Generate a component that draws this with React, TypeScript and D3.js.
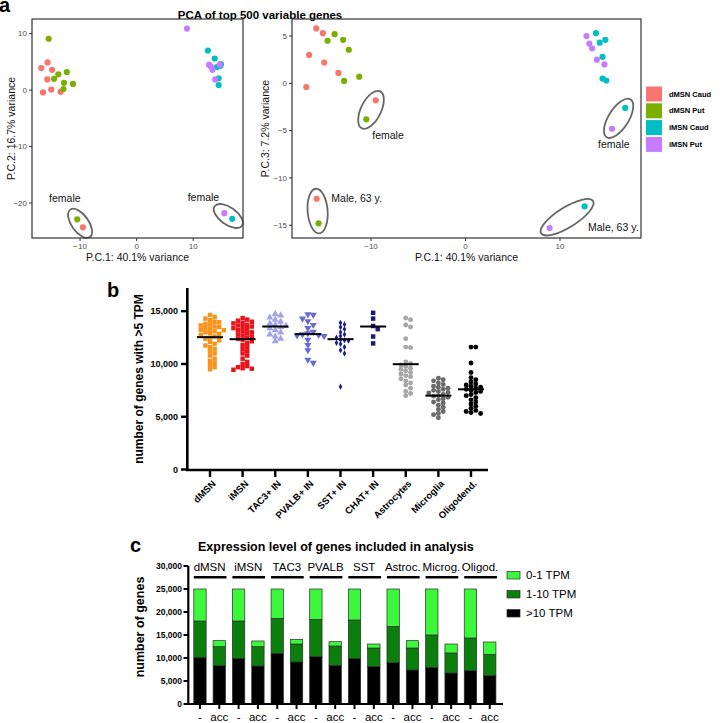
import React from "react";
import * as d3 from "d3";

const FONT = "'Liberation Sans', Arial, Helvetica, sans-serif";

// ---------------- Panel a data ----------------
const pcaGroups = ["dMSN Caud", "dMSN Put", "iMSN Caud", "iMSN Put"];
const pcaColors = ["#F8766D", "#7CAE00", "#00BFC4", "#C77CFF"];
const pcaGroup = [0, 0, 0, 0, 0, 0, 0, 0, 1, 1, 1, 1, 1, 1, 1, 1, 2, 2, 2, 2, 2, 2, 2, 2, 3, 3, 3, 3, 3, 3, 3];
const pc1 = [-16.85, -16.55, -15.8, -15.75, -15.1, -14.95, -13.45, -9.5,
  -15.55, -14.6, -13.85, -12.95, -12.85, -12.35, -11.25, -10.5,
  12.6, 13.8, 14.2, 14.8, 14.5, 14.5, 14.9, 16.9,
  8.9, 12.8, 13.1, 13.4, 13.9, 14.7, 15.5];
const pc2 = [3.9, -0.4, 1.9, 4.9, 0.1, 3.6, -0.3, -24.3,
  9.1, 2.0, 2.8, 0.2, 1.3, 3.2, 1.1, -22.9,
  7.0, 5.6, 4.1, 4.3, 2.1, 0.9, 4.6, -22.8,
  10.9, 4.5, 4.2, 3.6, 1.9, 4.5, -21.8];
const pc3 = [-0.4, 3.0, 5.8, -12.2, 5.3, 2.2, 1.1, -1.8,
  -14.8, 4.5, 5.2, 4.6, 0.25, 3.55, 0.7, -3.8,
  -13.0, 5.3, 4.3, 4.6, 2.8, 0.5, 0.3, -2.6,
  -15.3, 5.0, 4.2, 3.7, 2.5, 2.0, -4.8];
const pcaNote = ["", "", "", "M", "", "", "", "F",
  "M", "", "", "", "", "", "", "F",
  "M", "", "", "", "", "", "", "F",
  "M", "", "", "", "", "", "F"];

// ---------------- Panel b data ----------------
const bCats = ["dMSN", "iMSN", "TAC3+ IN", "PVALB+ IN", "SST+ IN", "CHAT+ IN", "Astrocytes", "Microglia", "Oligodend."];
const bdMSN = [14650, 14450, 14300, 14150, 14000, 13950, 13800, 13750, 13650, 13550, 13500, 13400, 13350, 13250, 13200, 13100, 13000, 12950, 12850, 12750, 12600, 12500, 12400, 12250, 12100, 11900, 11750, 11600, 11400, 11200, 11000, 10800, 10500, 10300, 10100, 9900, 9700, 9500];
const biMSN = [14350, 14200, 14100, 14000, 13900, 13850, 13700, 13650, 13550, 13500, 13400, 13300, 13200, 13100, 13000, 12900, 12800, 12700, 12600, 12500, 12400, 12300, 12150, 12000, 11800, 11600, 11400, 11200, 11000, 10800, 10500, 10200, 10000, 9800, 9700, 9550, 9450, 9600];
const bTAC3 = [14750, 14600, 14400, 14200, 14000, 13850, 13700, 13600, 13500, 13400, 13200, 13000, 12800, 12600, 12400, 12150];
const bPVALB = [14700, 14650, 14300, 14050, 13700, 13400, 13050, 12900, 12800, 12750, 12700, 12650, 12300, 11800, 11300, 10400, 10100];
const bSST = [13900, 13750, 13500, 13300, 13000, 12800, 12650, 12500, 12300, 12250, 12200, 12000, 11900, 11600, 11300, 11000, 7850];
const bCHAT = [14850, 14300, 13600, 13300, 12600, 11950];
const bAstro = [14350, 14200, 13700, 13500, 12400, 11600, 11550, 10200, 10050, 9900, 9750, 9600, 9500, 9350, 9200, 9050, 8900, 8800, 8600, 8400, 8200, 8000, 7700, 7400, 7200, 7000];
const bMicro = [8650, 8500, 8400, 8200, 8050, 7900, 7800, 7700, 7600, 7500, 7400, 7300, 7250, 7100, 7000, 6950, 6850, 6700, 6600, 6400, 6300, 6100, 5900, 5700, 5500, 5300, 5200, 4900];
const bOligo = [11600, 11600, 10100, 9200, 8700, 8500, 8300, 8100, 8000, 7900, 7800, 7700, 7600, 7500, 7400, 7300, 7100, 7000, 6800, 6600, 6400, 6200, 6000, 5800, 5600, 5500, 5400, 5300];
const bValues = [bdMSN, biMSN, bTAC3, bPVALB, bSST, bCHAT, bAstro, bMicro, bOligo];
const bCenter = [12540, 12350, 13550, 12830, 12350, 13550, 9980, 7000, 7600];
const bColors = ["#F7941D", "#E8141B", "#A3A3EA", "#6A6AD4", "#1C1C94", "#1A1A7E", "#A6A6A6", "#6B6B6B", "#000000"];
const bShapes = ["square", "square", "triUp", "triDown", "diamond", "square", "circle", "circle", "circle"];
const bTicks = [0, 5000, 10000, 15000];

// ---------------- Panel c data ----------------
const cGroups = ["dMSN", "iMSN", "TAC3", "PVALB", "SST", "Astroc.", "Microg.", "Oligod."];
const cConds = ["-", "acc"];
const cGt10 = [10150, 8330, 9930, 8260, 11010, 9130, 10290, 8400, 9860, 8120, 8990, 7390, 7970, 6740, 7250, 6160];
const c1to10 = [7890, 4130, 8110, 4200, 7610, 3910, 8110, 4200, 8400, 4050, 7890, 4780, 7030, 4350, 7100, 4640];
const c0to1 = [6960, 1310, 6960, 1240, 6380, 1020, 6600, 950, 6740, 870, 8120, 1600, 10000, 1950, 10650, 2680];
const cSeries = [">10 TPM", "1-10 TPM", "0-1 TPM"];
const cColors = ["#000000", "#0B7F0B", "#3CF73C"];
const cTicks = [0, 5000, 10000, 15000, 20000, 25000, 30000];

const fmt = d3.format(",");

// ---------------- helpers ----------------
function ellipseFor(a: [number, number], b: [number, number], pad: number, minor: number) {
  const cx = (a[0] + b[0]) / 2, cy = (a[1] + b[1]) / 2;
  const dx = b[0] - a[0], dy = b[1] - a[1];
  const ang = (Math.atan2(dy, dx) * 180) / Math.PI;
  const major = Math.hypot(dx, dy) / 2 + pad;
  return { cx, cy, ang, major, minor };
}

type Lab = { text: string; x: number; y: number; anchor: string };

function PcaPanel(props: {
  x0: number; x1: number; y0: number; y1: number;
  xDom: number[]; yDom: number[]; ys: number[];
  xTicks: number[]; yTicks: number[]; yTitle: string; yTitleX: number;
  pairs: { note: string; groups: number[] }[]; labels: Lab[]; pad: number; minor: number;
}) {
  const { x0, x1, y0, y1, xDom, yDom, ys, xTicks, yTicks, yTitle, yTitleX, pairs, labels, pad, minor } = props;
  const sx = d3.scaleLinear().domain(xDom).range([x0, x1]);
  const sy = d3.scaleLinear().domain(yDom).range([y1, y0]);
  const idx = d3.range(pc1.length);
  const ell = pairs.map((p) => {
    const pts = p.groups.map((g) => {
      const i = idx.find((k) => pcaGroup[k] === g && pcaNote[k] === p.note)!;
      return [sx(pc1[i]), sy(ys[i])] as [number, number];
    });
    return ellipseFor(pts[0], pts[1], pad, minor);
  });
  return (
    <g>
      {idx.map((i) => (
        <circle key={i} cx={sx(pc1[i])} cy={sy(ys[i])} r={3.1} fill={pcaColors[pcaGroup[i]]} />
      ))}
      {ell.map((e, k) => (
        <ellipse key={k} cx={0} cy={0} rx={e.major} ry={e.minor}
          transform={`translate(${e.cx},${e.cy}) rotate(${e.ang})`}
          fill="none" stroke="#666" strokeWidth={1.8} />
      ))}
      {labels.map((l, k) => (
        <text key={k} x={sx(l.x)} y={sy(l.y)} textAnchor={l.anchor} fontSize={10.5} fill="#111">{l.text}</text>
      ))}
      <rect x={x0} y={y0} width={x1 - x0} height={y1 - y0} fill="none" stroke="#333" strokeWidth={1.2} />
      {xTicks.map((t) => (
        <g key={t}>
          <line x1={sx(t)} x2={sx(t)} y1={y1} y2={y1 + 3} stroke="#333" strokeWidth={1} />
          <text x={sx(t)} y={y1 + 11} textAnchor="middle" fontSize={8} fill="#4D4D4D">{t < 0 ? "\u2212" + Math.abs(t) : t}</text>
        </g>
      ))}
      {yTicks.map((t) => (
        <g key={t}>
          <line x1={x0 - 3} x2={x0} y1={sy(t)} y2={sy(t)} stroke="#333" strokeWidth={1} />
          <text x={x0 - 5} y={sy(t)} dy="0.35em" textAnchor="end" fontSize={8} fill="#4D4D4D">{t < 0 ? "\u2212" + Math.abs(t) : t}</text>
        </g>
      ))}
      <text x={(x0 + x1) / 2} y={261} textAnchor="middle" fontSize={10.5} fill="#111">P.C.1: 40.1% variance</text>
      <text transform={`translate(${yTitleX},${(y0 + y1) / 2}) rotate(-90)`} textAnchor="middle" fontSize={10.5} fill="#111">{yTitle}</text>
    </g>
  );
}

function symbolPath(shape: string) {
  if (shape === "square") return d3.symbol(d3.symbolSquare, 20)()!;
  if (shape === "triUp") return d3.symbol(d3.symbolTriangle, 22)()!;
  if (shape === "triDown") return d3.symbol(d3.symbolTriangle, 22)()!;
  if (shape === "diamond") return d3.symbol(d3.symbolDiamond, 11)()!;
  return d3.symbol(d3.symbolCircle, 19)()!;
}

function swarm(values: number[], y: (v: number) => number, cx: number, size: number) {
  const placed: { x: number; y: number }[] = [];
  const sorted = values.slice().sort((a, b) => b - a);
  for (const v of sorted) {
    const py = y(v);
    let px = cx;
    for (let i = 0; i < 60; i++) {
      const off = i === 0 ? 0 : (i % 2 === 1 ? 1 : -1) * Math.ceil(i / 2) * size;
      const cand = cx + off;
      if (!placed.some((p) => Math.abs(p.x - cand) < size - 0.01 && Math.abs(p.y - py) < size * 0.85)) {
        px = cand;
        break;
      }
    }
    placed.push({ x: px, y: py });
  }
  return placed;
}

export default function App() {
  const bx = d3.scalePoint().domain(bCats).range([210, 471]);
  const by = d3.scaleLinear().domain([0, 17200]).range([469.5, 288]);
  const keys = d3.range(16).map((i) => `${cGroups[Math.floor(i / 2)]}|${cConds[i % 2]}`);
  const cx = d3.scaleBand().domain(keys).range([190.3, 499.4]).paddingInner(0.36).paddingOuter(0.18);
  const cy = d3.scaleLinear().domain([0, 30000]).range([704, 566]);
  const rows = keys.map((k, i) => ({ key: k, gt10: cGt10[i], mid: c1to10[i], low: c0to1[i] }));
  const stack = d3.stack<any>().keys(["gt10", "mid", "low"])(rows);

  return (
    <svg width={722} height={723} style={{ position: "absolute", left: 0, top: 0, fontFamily: FONT }}>
      <rect width={722} height={723} fill="#fff" />
      {/* ===== Panel a ===== */}
      <text x={-1} y={12} fontSize={20} fontWeight="bold">a</text>
      <text x={260} y={19} textAnchor="middle" fontSize={11.5} fontWeight="bold">PCA of top 500 variable genes</text>
      <PcaPanel x0={32} x1={243} y0={19} y1={238} xDom={[-18.5, 18.8]} yDom={[-26.2, 12.6]} ys={pc2}
        xTicks={[-10, 0, 10]} yTicks={[-20, -10, 0, 10]} yTitle="P.C.2: 16.7% variance" yTitleX={15}
        pairs={[{ note: "F", groups: [1, 0] }, { note: "F", groups: [3, 2] }]}
        labels={[{ text: "female", x: -12.7, y: -19.9, anchor: "middle" }, { text: "female", x: 11.8, y: -19.6, anchor: "middle" }]}
        pad={12} minor={8.5} />
      <PcaPanel x0={292} x1={641} y0={19} y1={238} xDom={[-18.36, 18.57]} yDom={[-16.35, 6.8]} ys={pc3}
        xTicks={[-10, 0, 10]} yTicks={[-15, -10, -5, 0, 5]} yTitle="P.C.3: 7.2% variance" yTitleX={269}
        pairs={[{ note: "F", groups: [1, 0] }, { note: "F", groups: [3, 2] }, { note: "M", groups: [0, 1] }, { note: "M", groups: [3, 2] }]}
        labels={[
          { text: "female", x: -8.2, y: -5.9, anchor: "middle" },
          { text: "female", x: 15.7, y: -6.85, anchor: "middle" },
          { text: "Male, 63 y.", x: -14.2, y: -12.55, anchor: "start" },
          { text: "Male, 63 y.", x: 12.96, y: -15.6, anchor: "start" },
        ]}
        pad={10} minor={10} />
      {pcaGroups.map((g, i) => (
        <g key={g} transform={`translate(646,${94 + i * 16.8})`}>
          <rect x={0} y={-7.5} width={16} height={15} fill={pcaColors[i]} />
          <text x={23} y={0} dy="0.35em" fontSize={7.5} fontWeight="bold">{g}</text>
        </g>
      ))}

      {/* ===== Panel b ===== */}
      <text x={107} y={297} fontSize={20} fontWeight="bold">b</text>
      {bValues.map((vals, ci) => {
        const cxp = bx(bCats[ci])!;
        const size = bShapes[ci] === "diamond" ? 4 : bShapes[ci] === "circle" ? 4.8 : bShapes[ci] === "square" ? 4.6 : 5.4;
        const pts = swarm(vals, (v) => by(v), cxp, size);
        const path = symbolPath(bShapes[ci]);
        return (
          <g key={ci}>
            {pts.map((p, k) => (
              <path key={k} d={path} transform={`translate(${p.x},${p.y})${bShapes[ci] === "triDown" ? " rotate(180)" : ""}`} fill={bColors[ci]} />
            ))}
            <line x1={cxp - 13} x2={cxp + 13} y1={by(bCenter[ci])} y2={by(bCenter[ci])} stroke="#000" strokeWidth={2} />
          </g>
        );
      })}
      <line x1={187.3} x2={187.3} y1={288} y2={471} stroke="#000" strokeWidth={2.6} />
      <line x1={186} x2={488} y1={470} y2={470} stroke="#000" strokeWidth={2.6} />
      {bTicks.map((t) => (
        <g key={t}>
          <line x1={181} x2={187} y1={by(t)} y2={by(t)} stroke="#000" strokeWidth={2.4} />
          <text x={178} y={by(t)} dy="0.35em" textAnchor="end" fontSize={9} fontWeight="bold">{fmt(t)}</text>
        </g>
      ))}
      {bCats.map((c) => (
        <g key={c}>
          <line x1={bx(c)!} x2={bx(c)!} y1={470} y2={477} stroke="#000" strokeWidth={2.4} />
          <text transform={`translate(${bx(c)! + 4},${482}) rotate(-45)`} textAnchor="end" dy="0.35em" fontSize={9.5} fontWeight="bold">{c}</text>
        </g>
      ))}
      <text transform="translate(143,379) rotate(-90)" textAnchor="middle" fontSize={12} fontWeight="bold">number of genes with &gt;5 TPM</text>

      {/* ===== Panel c ===== */}
      <text x={130} y={552} fontSize={20} fontWeight="bold">c</text>
      <text x={198} y={551} fontSize={12.5} fontWeight="bold">Expression level of genes included in analysis</text>
      {stack.map((s, si) => (
        <g key={si}>
          {s.map((d, k) => (
            <rect key={k} x={cx(keys[k])!} width={cx.bandwidth()} y={cy(d[1])} height={cy(d[0]) - cy(d[1])}
              fill={cColors[si]} stroke="#2b2b2b" strokeWidth={0.7} />
          ))}
        </g>
      ))}
      {cGroups.map((g, gi) => {
        const a = cx(keys[gi * 2])!;
        const b = cx(keys[gi * 2 + 1])! + cx.bandwidth();
        return (
          <g key={g}>
            <text x={(a + b) / 2} y={571} textAnchor="middle" fontSize={11.5}>{g}</text>
            <line x1={a} x2={b + 1} y1={577.3} y2={577.3} stroke="#000" strokeWidth={2.6} />
          </g>
        );
      })}
      <line x1={188.3} x2={188.3} y1={566} y2={705} stroke="#000" strokeWidth={2.2} />
      <line x1={187} x2={503} y1={704} y2={704} stroke="#000" strokeWidth={2.2} />
      {cTicks.map((t) => (
        <g key={t}>
          <line x1={183.5} x2={188.3} y1={cy(t)} y2={cy(t)} stroke="#000" strokeWidth={2} />
          <text x={182} y={cy(t)} dy="0.35em" textAnchor="end" fontSize={8.5} fontWeight="bold">{fmt(t)}</text>
        </g>
      ))}
      {keys.map((k, i) => {
        const xm = cx(k)! + cx.bandwidth() / 2;
        return (
          <g key={k}>
            <line x1={xm} x2={xm} y1={704} y2={709} stroke="#000" strokeWidth={2} />
            <text x={xm} y={721} textAnchor="middle" fontSize={11.5}>{cConds[i % 2]}</text>
          </g>
        );
      })}
      <text transform="translate(144,627) rotate(-90)" textAnchor="middle" fontSize={12.5} fontWeight="bold">number of genes</text>
      {[2, 1, 0].map((si, r) => (
        <g key={si} transform={`translate(507,${575.3 + r * 19})`}>
          <rect x={0} y={-3.7} width={13} height={7.4} fill={cColors[si]} stroke="#2b2b2b" strokeWidth={0.7} />
          <text x={19} y={0} dy="0.35em" fontSize={11.5}>{cSeries[si]}</text>
        </g>
      ))}
    </svg>
  );
}
